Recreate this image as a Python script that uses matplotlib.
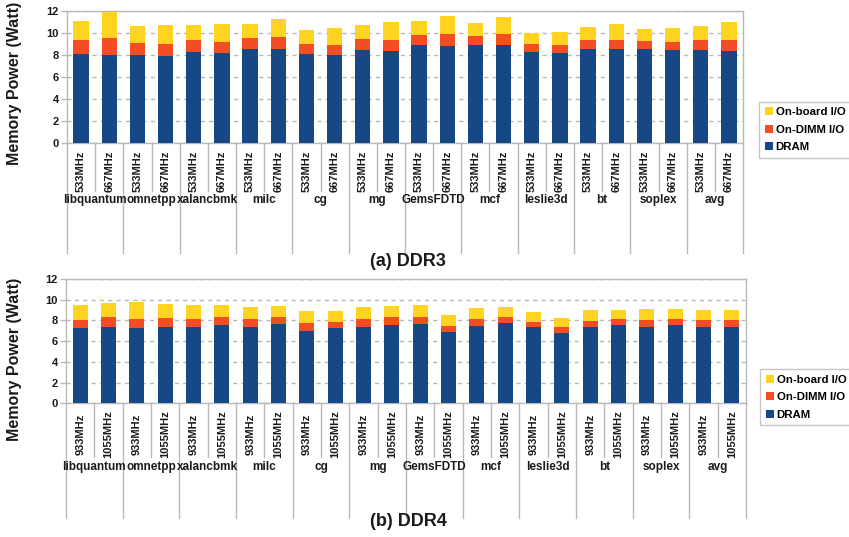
import matplotlib
matplotlib.use('Agg')
import matplotlib.pyplot as plt
import numpy as np

plt.rcParams['font.family'] = ['Liberation Sans', 'DejaVu Sans']

benchmarks = ['libquantum', 'omnetpp', 'xalancbmk', 'milc', 'cg', 'mg',
              'GemsFDTD', 'mcf', 'leslie3d', 'bt', 'soplex', 'avg']

ddr3_freqs = ['533MHz', '667MHz']
ddr3_dram = [8.12, 7.99, 7.99, 7.90, 8.27, 8.18, 8.54, 8.54, 8.09, 7.99, 8.45, 8.36,
             8.91, 8.81, 8.91, 8.91, 8.27, 8.18, 8.54, 8.54, 8.54, 8.45, 8.45, 8.36]
ddr3_dimm = [1.24, 1.55, 1.10, 1.10, 1.09, 1.00, 1.00, 1.10, 0.91, 0.92, 1.00, 1.00,
             0.91, 1.10, 0.82, 1.00, 0.73, 0.73, 0.82, 0.82, 0.73, 0.73, 0.91, 1.00]
ddr3_board = [1.73, 2.40, 1.55, 1.73, 1.37, 1.64, 1.28, 1.64, 1.27, 1.55, 1.28, 1.64,
              1.27, 1.64, 1.18, 1.55, 1.00, 1.18, 1.19, 1.46, 1.09, 1.28, 1.28, 1.64]

ddr4_freqs = ['933MHz', '1055MHz']
ddr4_dram = [7.27, 7.37, 7.27, 7.37, 7.37, 7.56, 7.37, 7.66, 6.98, 7.27, 7.37, 7.56,
             7.66, 6.89, 7.46, 7.75, 7.37, 6.79, 7.37, 7.56, 7.37, 7.56, 7.37, 7.37]
ddr4_dimm = [0.77, 0.96, 0.87, 0.87, 0.77, 0.77, 0.77, 0.67, 0.77, 0.58, 0.77, 0.77,
             0.67, 0.57, 0.68, 0.58, 0.48, 0.58, 0.58, 0.58, 0.67, 0.58, 0.67, 0.67]
ddr4_board = [1.45, 1.35, 1.64, 1.35, 1.35, 1.16, 1.16, 1.07, 1.16, 1.06, 1.16, 1.07,
              1.16, 1.07, 1.06, 0.97, 0.97, 0.87, 1.06, 0.87, 1.07, 0.97, 0.97, 0.97]

C_DRAM = '#174886'
C_DIMM = '#f24d23'
C_BOARD = '#ffd420'
GREY = '#b8b8b8'
TXT = '#1a1a1a'

W, H = 849, 537
fig = plt.figure(figsize=(W / 100, H / 100), dpi=100)


def px_axes(left, top, right, bottom):
    return fig.add_axes([left / W, 1 - bottom / H, (right - left) / W, (bottom - top) / H])


def draw_panel(ax, dram, dimm, board, freqs, caption, short_px, long_px, group_px,
               freq_px, caption_y, ylabel_y, legend_xy):
    n = len(dram)
    x = np.arange(n)
    dram = np.array(dram)
    dimm = np.array(dimm)
    board = np.array(board)
    ax.bar(x, dram, 0.54, color=C_DRAM, label='DRAM', zorder=3)
    ax.bar(x, dimm, 0.54, bottom=dram, color=C_DIMM, label='On-DIMM I/O', zorder=3)
    ax.bar(x, board, 0.54, bottom=dram + dimm, color=C_BOARD, label='On-board I/O', zorder=3)

    ax.set_xlim(-0.5, n - 0.5)
    ax.set_ylim(0, 12)
    ax.set_yticks(range(0, 13, 2))
    ax.yaxis.grid(True, linestyle=(0, (3, 3)), color=GREY, linewidth=1.0)
    ax.set_axisbelow(True)
    for s in ax.spines.values():
        s.set_color(GREY)
        s.set_linewidth(1.0)
    ax.tick_params(axis='y', length=4, width=1, color=GREY, pad=2,
                   labelsize=8, labelcolor=TXT)
    for lab in ax.get_yticklabels():
        lab.set_fontweight('bold')
    ax.set_xticks([])

    # separators below the axis: short between frequencies, long between benchmarks
    tr = ax.get_xaxis_transform()
    ax_h = ax.get_position().height * H
    for i in range(n + 1):
        depth = long_px if i % 2 == 0 else short_px
        ax.plot([i - 0.5, i - 0.5], [0, -depth / ax_h], transform=tr, color=GREY,
                linewidth=1.0, clip_on=False)
    for i in range(n):
        ax.text(i, -freq_px / ax_h, freqs[i % 2], transform=tr, rotation=90,
                ha='center', va='center', fontsize=8, fontweight='bold', color=TXT)
    for g, name in enumerate(benchmarks):
        ax.text(2 * g + 0.5, -group_px / ax_h, name, transform=tr, ha='center',
                va='center', fontsize=8.5, fontweight='bold', color=TXT)

    fig.text(408 / W, 1 - caption_y / H, caption, ha='center', va='center',
             fontsize=13, fontweight='bold', color=TXT)
    fig.text(15 / W, 1 - ylabel_y / H, 'Memory Power (Watt)', rotation=90,
             ha='center', va='center', fontsize=11.5, fontweight='bold', color=TXT)

    handles, labels = ax.get_legend_handles_labels()
    leg = fig.legend(handles[::-1], labels[::-1], loc='upper left',
                     bbox_to_anchor=(legend_xy[0] / W, 1 - legend_xy[1] / H),
                     borderaxespad=0, frameon=True, fancybox=False,
                     handlelength=0.7, handleheight=0.7, handletextpad=0.25,
                     labelspacing=0.65, borderpad=0.5,
                     prop={'size': 8.2, 'weight': 'bold'})
    leg.get_frame().set_edgecolor(GREY)
    leg.get_frame().set_linewidth(1.0)


ax1 = px_axes(67, 11, 743, 142.7)
draw_panel(ax1, ddr3_dram, ddr3_dimm, ddr3_board, ddr3_freqs, '(a) DDR3',
           48, 110, 57, 29, 261, 83, (759, 101.7))

ax2 = px_axes(66, 279, 746, 403.3)
draw_panel(ax2, ddr4_dram, ddr4_dimm, ddr4_board, ddr4_freqs, '(b) DDR4',
           54, 115, 64, 31, 521, 359, (760, 369))

fig.savefig('out.png', dpi=100)
